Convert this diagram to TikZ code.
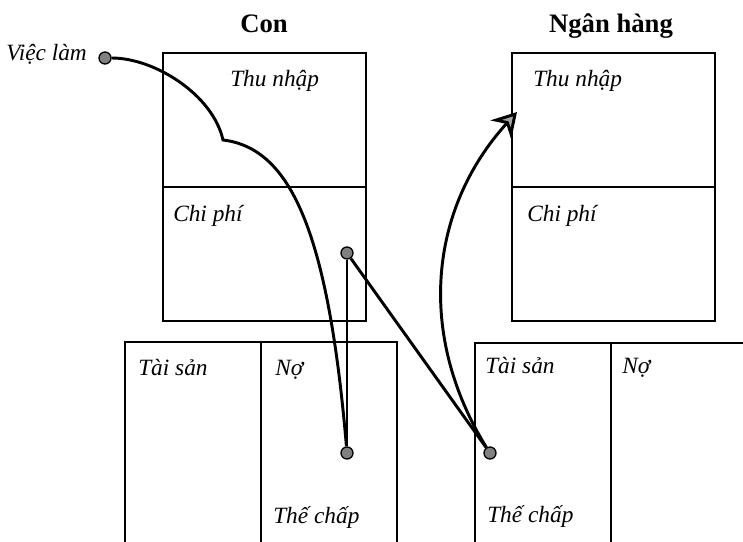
\documentclass[tikz,border=0pt]{standalone}
\usepackage{fontspec}
\setmainfont{Liberation Serif}
\usetikzlibrary{arrows.meta,calc}
\newdimen\hdim
\newdimen\wdim
\newdimen\cdim
\hdim=100.5pt
\wdim=152.25pt
\cdim=102pt
\tikzstyle{flow}=[
  draw=black,
  line width=2.2pt,
]
\tikzstyle{panel}=[
  rectangle,
  draw,
  line width=1pt,
  inner sep=0pt,
  outer sep=0pt,
  minimum width=\wdim,
  minimum height=\hdim,
  anchor=north west,
]
\tikzstyle{column}=[
  rectangle,
  draw,
  line width=1pt,
  inner sep=0pt,
  outer sep=0pt,
  minimum width=\cdim,
  minimum height=170pt,
  anchor=north west,
]
\tikzstyle{dot}=[
  circle,
  draw,
  fill=black!50,
  line width=1pt,
  inner sep=0pt,
  minimum size=9pt,
]
\tikzstyle{title}=[
  font={\fontsize{20}{24}\selectfont\bfseries},
  inner sep=0pt,
  anchor=base,
]
\tikzstyle{item}=[
  font={\fontsize{17.5}{20}\selectfont\itshape},
  inner sep=0pt,
  anchor=base west,
]
\tikzset{
  >={Stealth[length=18pt, width=21pt, inset=6pt, fill=black!35]},
}

\begin{document}
\begin{tikzpicture}[x=0.75pt, y=-0.75pt]
  \useasboundingbox (0,0) rectangle (743,542);
  % con
  \node [title] (CON) at (264,33) {Con};
  \node [panel] (CONINC) at (163,53) {};
  \node [panel] (CONEXP) at (163,187) {};
  \node [column] (CONASSET) at (125,342) {};
  \node [column] (CONDEBT) at (261,342) {};
  \node [item] (CONINCLBL) at (230,87) {Thu nhập};
  \node [item] (CONEXPLBL) at (173,221) {Chi phí};
  \node [item] (CONASSETLBL) at (138,375) {Tài sản};
  \node [item] (CONDEBTLBL) at (275,375) {Nợ};
  \node [item] (CONLOANLBL) at (273,523) {Thế chấp};
  % bank
  \node [title] (BANK) at (611,33) {Ngân hàng};
  \node [panel] (BANKINC) at (512,53) {};
  \node [panel] (BANKEXP) at (512,187) {};
  \node [column] (BANKASSET) at (475,343) {};
  \node [column] (BANKDEBT) at (611,343) {};
  \node [item] (BANKINCLBL) at (533,87) {Thu nhập};
  \node [item] (BANKEXPLBL) at (527,221) {Chi phí};
  \node [item] (BANKASSETLBL) at (485,373) {Tài sản};
  \node [item] (BANKDEBTLBL) at (622,373) {Nợ};
  \node [item] (BANKLOANLBL) at (487,522) {Thế chấp};
  % flows
  \node [item] (JOBLBL) at (6,61) {Việc làm};
  \node [dot] (JOB) at (105,58) {};
  \node [dot] (CONEXPDOT) at (347,253) {};
  \node [dot] (CONDEBTDOT) at (347,453) {};
  \node [dot] (BANKASSETDOT) at (490,453) {};
  \coordinate (KINK) at (223,140);
  \coordinate (TIP) at (517,112);
  \draw [flow] (JOB) .. controls (155,58) and (213,95) .. (KINK)
    .. controls (290,148) and (328,230) .. (CONDEBTDOT);
  \draw [flow] (CONEXPDOT) -- (CONDEBTDOT);
  \draw [flow] (CONEXPDOT) -- (BANKASSETDOT);
  \draw [flow, ->] (BANKASSETDOT) to [bend left=37] (TIP);
\end{tikzpicture}
\end{document}
